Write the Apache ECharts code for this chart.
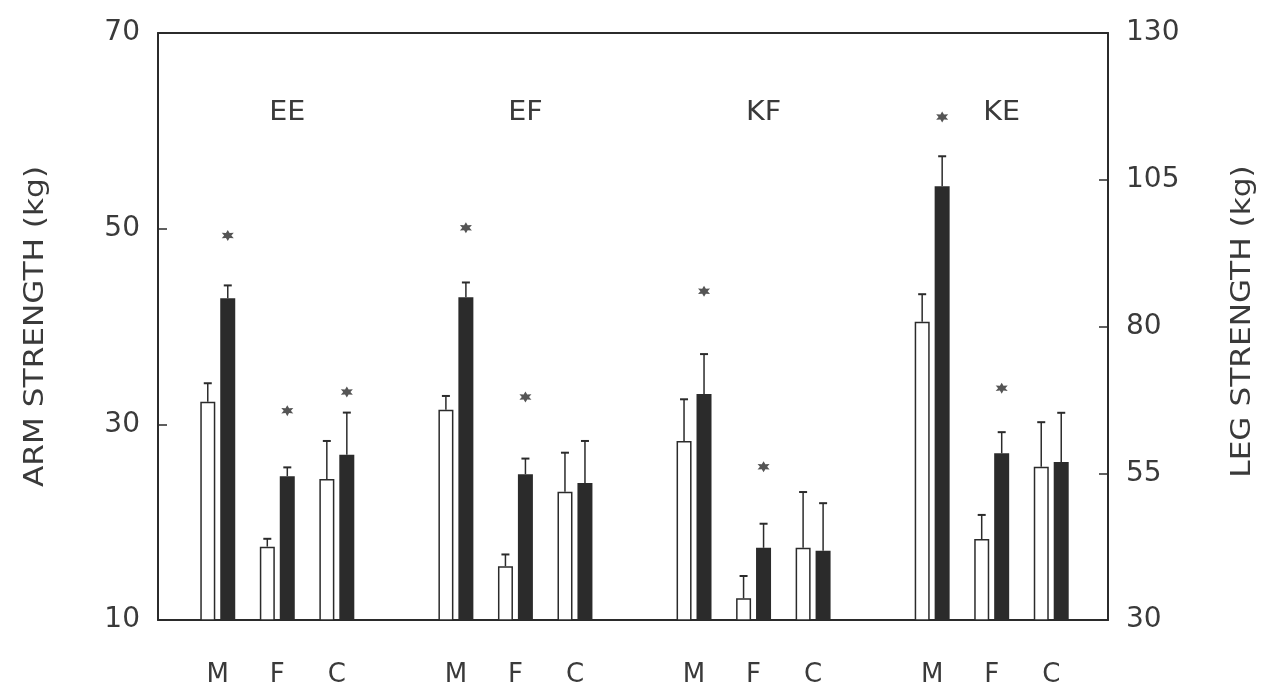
<!DOCTYPE html>
<html>
<head>
<meta charset="utf-8">
<script src="https://cdn.jsdelivr.net/npm/echarts@6/dist/echarts.min.js"></script>
<style>
  html, body { margin: 0; padding: 0; background: #ffffff; }
  #c { width: 1266px; height: 693px; }
</style>
</head>
<body>
<div id="c"></div>
<script>
// ---- data ----
const groups = ['EE', 'EF', 'KF', 'KE'];
const subjects = ['M', 'F', 'C'];
const groupScale = ['arm', 'arm', 'leg', 'leg'];   // EE/EF on arm axis, KF/KE on leg axis
const openMean   = [[32.3, 17.5, 24.4], [31.5, 15.5, 23.1], [60.5, 33.7, 42.3], [80.8, 43.8, 56.1]];
const openSE     = [[1.9, 0.8, 3.9],    [1.4, 1.2, 4.0],    [7.1, 3.8, 9.5],    [4.7, 4.1, 7.6]];
const filledMean = [[42.9, 24.7, 26.9], [43.0, 24.9, 24.0], [68.5, 42.3, 41.8], [103.9, 58.4, 56.9]];
const filledSE   = [[1.3, 0.9, 4.3],    [1.5, 1.6, 4.3],    [6.8, 4.1, 8.1],    [5.1, 3.6, 8.4]];
const starValue  = [[49.3, 31.4, 33.3], [50.1, 32.8, null], [86.0, 56.1, null], [115.7, 69.5, null]];
const armTicks = [10, 30, 50, 70];
const legTicks = [30, 55, 80, 105, 130];
const armTitle = 'ARM STRENGTH (kg)';
const legTitle = 'LEG STRENGTH (kg)';

// ---- layout / style ----
const FONT = 'DejaVu Sans';
const TXT = '#3a3a3a';
const INK = '#2b2b2b';
const BAR_W = 15;
const PAIR_OFF = 10;  // half distance between centres of open and filled bar
const SLOTS_PER_GROUP = 4;
const NSLOTS = groups.length * SLOTS_PER_GROUP - 1;

const categories = [];
for (let i = 0; i < NSLOTS; i++) {
  const s = i % SLOTS_PER_GROUP;
  categories.push(s < 3 ? subjects[s] : '');
}
const slotOf = (g, s) => g * SLOTS_PER_GROUP + s;

function seriesData(scale, arr) {
  const out = new Array(NSLOTS).fill('-');
  groups.forEach((_, g) => {
    if (groupScale[g] !== scale) return;
    subjects.forEach((_, s) => { out[slotOf(g, s)] = arr[g][s]; });
  });
  return out;
}
function errData(scale, mean, se) {
  const out = [];
  groups.forEach((_, g) => {
    if (groupScale[g] !== scale) return;
    subjects.forEach((_, s) => out.push([slotOf(g, s), mean[g][s], se[g][s]]));
  });
  return out;
}
function starData(scale) {
  const out = [];
  groups.forEach((_, g) => {
    if (groupScale[g] !== scale) return;
    subjects.forEach((_, s) => { if (starValue[g][s] != null) out.push([slotOf(g, s), starValue[g][s]]); });
  });
  return out;
}

function errRender(side) {
  return function (params, api) {
    const idx = api.value(0), m = api.value(1), e = api.value(2);
    const p0 = api.coord([idx, m]);
    const p1 = api.coord([idx, m + e]);
    const x = p0[0] + side * PAIR_OFF;
    return {
      type: 'group',
      children: [
        { type: 'line', shape: { x1: x, y1: p0[1], x2: x, y2: p1[1] }, style: { stroke: INK, lineWidth: 1.5 } },
        { type: 'line', shape: { x1: x - 4, y1: p1[1], x2: x + 4, y2: p1[1] }, style: { stroke: INK, lineWidth: 2 } }
      ]
    };
  };
}

// six-pointed asterisk blob
const STAR = 'path://M5 0 L6.3 2.75 L9.33 2.5 L7.6 5 L9.33 7.5 L6.3 7.25 L5 10 L3.7 7.25 L0.67 7.5 L2.4 5 L0.67 2.5 L3.7 2.75 Z';

const frameGrid = { left: 158, right: 158, top: 33, bottom: 73 };
const barGrid = { left: 188, right: 185, top: 33, bottom: 73 };

const hiddenY = (min, max) => ({ type: 'value', min, max, show: false, gridIndex: 1 });
const hiddenX = () => ({
  type: 'category', gridIndex: 1, data: categories, boundaryGap: true,
  axisLine: { show: false, onZero: false }, axisTick: { show: false }, axisLabel: { show: false }, splitLine: { show: false }
});

const tickLabel = { fontFamily: FONT, fontSize: 28, color: TXT };
const frameX = (pos) => ({
  type: 'category', gridIndex: 0, position: pos, data: [''],
  axisLine: { show: true, onZero: false, lineStyle: { color: INK, width: 2 } }, axisTick: { show: false },
  axisLabel: { show: false }, splitLine: { show: false }
});

const option = {
  backgroundColor: '#ffffff',
  animation: false,
  grid: [Object.assign({}, frameGrid), Object.assign({}, barGrid)],
  xAxis: [
    frameX('bottom'),
    frameX('top'),
    Object.assign(hiddenX(), {
      axisLabel: { show: true, margin: 42, fontFamily: FONT, fontSize: 26, color: TXT, interval: 0 }
    }),
    hiddenX()
  ],
  yAxis: [
    { type: 'value', gridIndex: 0, position: 'left', min: armTicks[0], max: armTicks[armTicks.length - 1],
      interval: armTicks[1] - armTicks[0],
      axisLine: { show: true, onZero: false, lineStyle: { color: INK, width: 2 } },
      axisTick: { show: true, inside: true, length: 9, lineStyle: { color: INK, width: 1.5 } },
      axisLabel: Object.assign({ margin: 18 }, tickLabel),
      splitLine: { show: false } },
    { type: 'value', gridIndex: 0, position: 'right', min: legTicks[0], max: legTicks[legTicks.length - 1],
      interval: legTicks[1] - legTicks[0],
      axisLine: { show: true, onZero: false, lineStyle: { color: INK, width: 2 } },
      axisTick: { show: true, inside: true, length: 9, lineStyle: { color: INK, width: 1.5 } },
      axisLabel: Object.assign({ margin: 18 }, tickLabel),
      splitLine: { show: false } },
    hiddenY(armTicks[0], armTicks[armTicks.length - 1]),
    hiddenY(legTicks[0], legTicks[legTicks.length - 1])
  ],
  series: [
    { type: 'bar', name: 'arm open', xAxisIndex: 2, yAxisIndex: 2, barWidth: BAR_W, barGap: '33%',
      data: seriesData('arm', openMean), itemStyle: { color: '#ffffff', borderColor: INK, borderWidth: 1.5 } },
    { type: 'bar', name: 'arm filled', xAxisIndex: 2, yAxisIndex: 2, barWidth: BAR_W, barGap: '33%',
      data: seriesData('arm', filledMean), itemStyle: { color: INK } },
    { type: 'bar', name: 'leg open', xAxisIndex: 3, yAxisIndex: 3, barWidth: BAR_W, barGap: '33%',
      data: seriesData('leg', openMean), itemStyle: { color: '#ffffff', borderColor: INK, borderWidth: 1.5 } },
    { type: 'bar', name: 'leg filled', xAxisIndex: 3, yAxisIndex: 3, barWidth: BAR_W, barGap: '33%',
      data: seriesData('leg', filledMean), itemStyle: { color: INK } },
    { type: 'custom', xAxisIndex: 2, yAxisIndex: 2, renderItem: errRender(-1), data: errData('arm', openMean, openSE), z: 5 },
    { type: 'custom', xAxisIndex: 2, yAxisIndex: 2, renderItem: errRender(1), data: errData('arm', filledMean, filledSE), z: 5 },
    { type: 'custom', xAxisIndex: 3, yAxisIndex: 3, renderItem: errRender(-1), data: errData('leg', openMean, openSE), z: 5 },
    { type: 'custom', xAxisIndex: 3, yAxisIndex: 3, renderItem: errRender(1), data: errData('leg', filledMean, filledSE), z: 5 },
    { type: 'scatter', xAxisIndex: 2, yAxisIndex: 2, symbol: STAR, symbolSize: [12, 11], symbolOffset: [PAIR_OFF, 0],
      data: starData('arm'), itemStyle: { color: INK }, z: 6 },
    { type: 'scatter', xAxisIndex: 3, yAxisIndex: 3, symbol: STAR, symbolSize: [12, 11], symbolOffset: [PAIR_OFF, 0],
      data: starData('leg'), itemStyle: { color: INK }, z: 6 }
  ]
};

const chart = echarts.init(document.getElementById('c'));
chart.setOption(option);

// group labels centred above the filled bar of the middle (F) pair
const graphics = groups.map((name, g) => {
  const x = chart.convertToPixel({ xAxisIndex: 2 }, slotOf(g, 1)) + PAIR_OFF;
  return {
    type: 'text', x: x, y: 113, scaleX: 1.1,
    style: { text: name, font: '26px "' + FONT + '"', fill: TXT, textAlign: 'center', textVerticalAlign: 'middle' }
  };
});
// axis titles, read bottom-to-top, stretched like the plotter lettering
const midArm = chart.convertToPixel({ yAxisIndex: 0 }, (armTicks[0] + armTicks[armTicks.length - 1]) / 2);
graphics.push({
  type: 'text', x: 36, y: midArm, rotation: Math.PI / 2, scaleX: 1.2,
  style: { text: armTitle, font: '26px "' + FONT + '"', fill: TXT, textAlign: 'center', textVerticalAlign: 'middle' }
});
graphics.push({
  type: 'text', x: 1243, y: midArm - 5, rotation: Math.PI / 2, scaleX: 1.2,
  style: { text: legTitle, font: '26px "' + FONT + '"', fill: TXT, textAlign: 'center', textVerticalAlign: 'middle' }
});
chart.setOption({ graphic: graphics });
</script>
</body>
</html>
